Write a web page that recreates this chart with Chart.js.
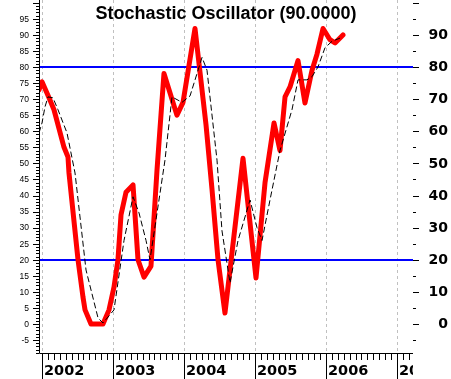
<!DOCTYPE html>
<html><head><meta charset="utf-8">
<style>html,body{margin:0;padding:0;background:#fff;overflow:hidden;}#c{display:block;}</style>
<script src="https://cdn.jsdelivr.net/npm/chart.js@4.4.1/dist/chart.umd.min.js"></script>
</head><body>
<canvas id="c" width="451" height="379"></canvas>
<script>
// ---- data ----
const titleText = 'Stochastic Oscillator (90.0000)';
const yearLabels = ['2002', '2003', '2004', '2005', '2006', '2007'];
const leftTickLabels = [95, 90, 85, 80, 75, 70, 65, 60, 55, 50, 45, 40, 35, 30, 25, 20, 15, 10, 5, 0, -5];
const rightTickLabels = [90, 80, 70, 60, 50, 40, 30, 20, 10, 0];
const levelLines = [80, 20];

// %K (red) - decimal year / value
const kX = [2001.958, 2002.0, 2002.099, 2002.169, 2002.310, 2002.366, 2002.380, 2002.507, 2002.577, 2002.606,
  2002.690, 2002.859, 2002.944, 2003.014, 2003.070, 2003.113, 2003.183, 2003.282, 2003.352, 2003.437,
  2003.535, 2003.620, 2003.718, 2003.901, 2003.986, 2004.155, 2004.310, 2004.394, 2004.479, 2004.577,
  2004.831, 2005.014, 2005.141, 2005.268, 2005.352, 2005.423, 2005.493, 2005.606, 2005.704, 2005.803,
  2005.873, 2005.958, 2006.056, 2006.127, 2006.239];
const kY = [72.9, 75.4, 70.4, 66.7, 55, 52, 47, 20, 8.4, 4.4,
  0, 0, 4.4, 11.5, 20, 34, 41, 43.3, 20, 14.6,
  18, 48, 78, 65, 69, 92, 62, 42, 20, 3.4,
  51.6, 14.3, 44, 62.6, 54, 70.7, 73.8, 82, 68.8, 79,
  84, 92, 88.5, 87.5, 90];

// %D (black dashed)
const dX = [2001.958, 2002.0, 2002.042, 2002.085, 2002.155, 2002.225, 2002.352, 2002.465, 2002.620, 2002.789,
  2002.859, 2003.014, 2003.155, 2003.282, 2003.366, 2003.465, 2003.521, 2003.732, 2003.831, 2003.972,
  2004.085, 2004.254, 2004.324, 2004.465, 2004.535, 2004.648, 2004.761, 2004.930, 2005.028, 2005.099,
  2005.211, 2005.352, 2005.521, 2005.606, 2005.732, 2005.803, 2005.887, 2005.986, 2006.085, 2006.197];
const dY = [59.5, 62.6, 67.6, 70.7, 70.4, 66.7, 59.5, 47, 16.8, 1.9,
  0.3, 4.4, 26, 39.6, 34.6, 26, 20, 51, 70.7, 69,
  71, 83, 79, 51, 29, 12.8, 26, 38.6, 30, 26,
  38.6, 54, 66.7, 76, 76, 77, 80, 86, 88, 89];

const firstYear = parseInt(yearLabels[0], 10);

const axesPlugin = {
  id: 'axesPlugin',
  beforeDatasetsDraw(chart) {
    const {ctx, chartArea: a, scales: {x, y}} = chart;
    ctx.save();
    // year gridlines
    ctx.strokeStyle = '#c0c0c0';
    ctx.lineWidth = 1;
    ctx.setLineDash([3, 3]);
    yearLabels.forEach((lab, i) => {
      const px = Math.round(x.getPixelForValue(firstYear + i)) + 0.5;
      if (px < a.left || px > a.right) return;
      ctx.beginPath(); ctx.moveTo(px, a.top); ctx.lineTo(px, a.bottom); ctx.stroke();
    });
    ctx.setLineDash([]);
    // level lines
    ctx.strokeStyle = '#0000ff';
    ctx.lineWidth = 2;
    levelLines.forEach(v => {
      const py = Math.round(y.getPixelForValue(v));
      ctx.beginPath(); ctx.moveTo(a.left, py); ctx.lineTo(a.right, py); ctx.stroke();
    });
    ctx.restore();
  },
  afterDraw(chart) {
    const {ctx, chartArea: a, scales: {x, y}} = chart;
    ctx.save();
    ctx.strokeStyle = '#000';
    ctx.fillStyle = '#000';
    ctx.lineWidth = 1;
    // axis lines
    ctx.beginPath();
    ctx.moveTo(a.left + 0.5, a.top); ctx.lineTo(a.left + 0.5, a.bottom + 0.5);
    ctx.lineTo(a.right, a.bottom + 0.5);
    ctx.stroke();
    // left ticks (every unit; longer every 5)
    const yMin = Math.ceil(y.min), yMax = Math.floor(y.max);
    for (let v = yMin; v <= yMax; v++) {
      const py = Math.round(y.getPixelForValue(v)) + 0.5;
      const len = (v % 5 === 0) ? 6 : 3;
      ctx.beginPath(); ctx.moveTo(a.left - len, py); ctx.lineTo(a.left, py); ctx.stroke();
    }
    // right ticks (every 5; longer every 10)
    for (let v = Math.ceil(y.min / 5) * 5; v <= yMax; v += 5) {
      const py = Math.round(y.getPixelForValue(v)) + 0.5;
      const len = (v % 10 === 0) ? 6 : 3;
      ctx.beginPath(); ctx.moveTo(a.right, py); ctx.lineTo(a.right + len, py); ctx.stroke();
    }
    // left labels
    ctx.font = '8.5px "Liberation Sans", Arial, sans-serif';
    ctx.textAlign = 'right';
    ctx.textBaseline = 'middle';
    leftTickLabels.forEach(v => {
      ctx.fillText(String(v), a.left - 10, y.getPixelForValue(v) + 0.5);
    });
    // right labels
    ctx.font = 'bold 14px "DejaVu Sans", sans-serif';
    ctx.textAlign = 'right';
    rightTickLabels.forEach(v => {
      ctx.fillText(String(v), 448, y.getPixelForValue(v) + 0.5);
    });
    // bottom ticks: monthly minor, yearly major
    for (let i = -1; i < yearLabels.length; i++) {
      for (let m = 0; m < 12; m++) {
        const val = firstYear + i + m / 12;
        const px = Math.round(x.getPixelForValue(val)) + 0.5;
        if (px < a.left || px > a.right) continue;
        const len = m === 0 ? 26 : 7;
        ctx.beginPath(); ctx.moveTo(px, a.bottom); ctx.lineTo(px, a.bottom + len); ctx.stroke();
      }
    }
    // year labels, clipped at right edge of plot
    ctx.save();
    ctx.beginPath(); ctx.rect(0, a.bottom, a.right, chart.height - a.bottom); ctx.clip();
    ctx.font = 'bold 14.5px "DejaVu Sans", sans-serif';
    ctx.textAlign = 'left';
    ctx.textBaseline = 'alphabetic';
    yearLabels.forEach((lab, i) => {
      const px = Math.round(x.getPixelForValue(firstYear + i));
      ctx.fillText(lab, px + 2, a.bottom + 22);
    });
    ctx.restore();
    // title
    ctx.font = 'bold 18px "Liberation Sans", Arial, sans-serif';
    ctx.textAlign = 'center';
    ctx.textBaseline = 'alphabetic';
    ctx.fillText(titleText, (a.left + a.right) / 2, 19);
    ctx.restore();
  }
};

new Chart(document.getElementById('c').getContext('2d'), {
  type: 'line',
  data: {
    datasets: [
      {
        data: kX.map((v, i) => ({x: v, y: kY[i]})),
        borderColor: '#ff0000', borderWidth: 5, pointRadius: 0, tension: 0,
        borderJoinStyle: 'round', borderCapStyle: 'round', order: 1
      },
      {
        data: dX.map((v, i) => ({x: v, y: dY[i]})),
        borderColor: '#000000', borderWidth: 1, borderDash: [6, 3], pointRadius: 0, tension: 0,
        order: 0
      }
    ]
  },
  options: {
    responsive: false,
    animation: false,
    events: [],
    layout: {padding: {left: 39, right: 38, top: 0, bottom: 26}},
    scales: {
      x: {type: 'linear', min: 2001.9577, max: 2007.2254, display: false},
      y: {type: 'linear', min: -9.03, max: 100.86, display: false}
    },
    plugins: {legend: {display: false}, tooltip: {enabled: false}}
  },
  plugins: [axesPlugin]
});
</script>
</body></html>
